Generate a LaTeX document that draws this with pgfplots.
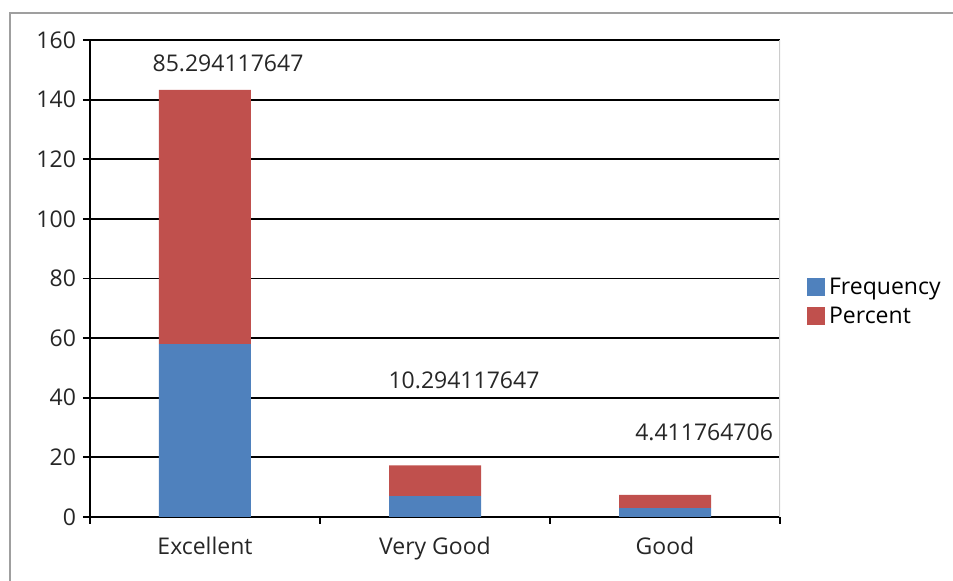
\documentclass[border=0pt]{standalone}
\usepackage{pgfplots}
\pgfplotsset{compat=1.18}
\usepackage{fontspec}
\setmainfont{Open Sans}
\definecolor{xlblue}{HTML}{4F81BD}
\definecolor{xlred}{HTML}{C0504D}
\definecolor{txt}{HTML}{262626}

\begin{document}
\begin{tikzpicture}[font=\fontsize{11.5}{13}\selectfont]
\useasboundingbox (-45pt,-32pt) rectangle (431.5pt,258.5pt);
\draw[gray!75, line width=0.8pt] (-40pt,-32pt) -- (-40pt,252pt) -- (431.5pt,252pt);
\begin{axis}[
    at={(0,0)}, anchor=south west,
    scale only axis,
    width=345pt, height=238.5pt,
    ybar stacked,
    bar width=46pt,
    xmin=-0.5, xmax=2.5,
    ymin=0, ymax=160,
    axis x line*=bottom, axis y line*=left,
    axis line style={-, black, line width=0.9pt},
    xtick={0,1,2},
    xticklabels={Excellent, Very Good, Good},
    minor xtick={-0.5,0.5,1.5,2.5},
    ytick={0,20,...,160},
    tick align=outside,
    major tick length=3.5pt,
    minor tick length=3.5pt,
    x tick style={draw=none},
    minor x tick style={draw=black, line width=0.9pt},
    y tick style={black, line width=0.9pt},
    ymajorgrids,
    grid style={black, line width=0.9pt},
    tick label style={text=txt, font=\fontsize{11.5}{13}\selectfont},
    /pgf/number format/assume math mode=true,
    xticklabel style={yshift=-3pt},
    legend style={draw=none, fill=none, at={(1.03,0.45)}, anchor=west,
        font=\fontsize{11.5}{13}\selectfont, row sep=1pt,
        cells={anchor=west}},
    legend image code/.code={\fill[#1] (0pt,-4pt) rectangle (9pt,5pt);},
]
\addplot[fill=xlblue, draw=none] coordinates {(0,58) (1,7) (2,3)};
\addlegendentry{Frequency}
\addplot[fill=xlred, draw=none] coordinates {(0,85.294117647) (1,10.294117647) (2,4.411764706)};
\addlegendentry{Percent}
\draw[gray!40, line width=0.8pt] (rel axis cs:1,0) -- (rel axis cs:1,1);
\node[text=txt] at (axis cs:0.1,152.3) {85.294117647};
\node[text=txt] at (axis cs:1.126,46) {10.294117647};
\node[text=txt] at (axis cs:2.17,28.5) {4.411764706};
\end{axis}
\end{tikzpicture}
\end{document}
